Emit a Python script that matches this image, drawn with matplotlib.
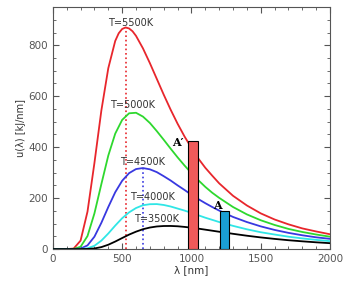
import numpy as np
import matplotlib
matplotlib.use("Agg")
import matplotlib.pyplot as plt
from matplotlib.ticker import MultipleLocator

# wavelength grid [nm]
wl = [0, 100, 150, 200, 250, 300, 350, 400, 450, 500, 550, 600, 650, 700, 750,
      800, 850, 900, 950, 1000, 1050, 1100, 1150, 1200, 1300, 1400, 1500,
      1600, 1700, 1800, 1900, 2000]
# the 5500K curve is sharper, so it gets a few extra points round its peak
wl_5500 = [0, 100, 150, 200, 250, 300, 350, 400, 450, 475, 500, 525, 550, 575, 600,
           650, 700, 750, 800, 850, 900, 950, 1000, 1050, 1100, 1150, 1200, 1300,
           1400, 1500, 1600, 1700, 1800, 1900, 2000]

# spectral energy density [kJ/nm]
u_5500 = [0, 0, 1.8, 33, 147, 338, 544, 710, 817, 847, 864, 870, 866, 855, 837,
          788, 730, 668, 606, 547, 492, 442, 397, 355, 319, 288, 258, 209,
          171, 140, 116, 97, 81, 69, 58]
u_5000 = [0, 0, 0.3, 8.8, 51, 140, 255, 367, 453, 507, 533, 535, 520, 495, 463,
          429, 394, 360, 328, 298, 270, 244, 221, 201, 165, 136, 113,
          94.5, 79, 67, 57, 48.5]
u_4500 = [0, 0, 0, 1.8, 14.3, 48.5, 103, 165, 223, 268, 298, 314, 318, 313, 302,
          286, 269, 250, 232, 213, 196, 180, 165, 151, 126, 106, 89,
          75, 63.5, 54, 46, 40]
u_4000 = [0, 0, 0, 0.2, 2.9, 12.9, 33, 61, 92, 121, 144, 161, 172, 176, 176.5,
          173, 167, 159, 151, 142, 132.5, 123, 114.6, 106, 91, 77.5, 66,
          57, 48.5, 41.7, 36, 31]
u_3500 = [0, 0, 0, 0, 0.4, 2.3, 7.6, 16.9, 29.4, 43.2, 56.7, 68.2, 77.8, 84.4, 88.6,
          90.4, 90.6, 89.4, 86.9, 83.8, 80.1, 76.1, 72, 67.9, 59.8, 52.3, 45.6,
          39.8, 34.6, 30.3, 26.4, 23]

temps = ["T=5500K", "T=5000K", "T=4500K", "T=4000K", "T=3500K"]
label_x = [558, 573, 645, 717, 746]
label_y = [886, 565, 341, 204, 118]

# Wien peaks (dotted markers)
peak_x = [527, 650]
peak_y = [870, 318]

# the two intervals A' and A
bar_left = [976, 1208]
bar_right = [1049, 1271]
bar_height = [425, 150]
bar_names = ["A\u2032", "A"]

fig = plt.figure(figsize=(3.5, 2.83), dpi=100)
ax = fig.add_axes([0.151, 0.12, 0.792, 0.855])

ax.plot(wl_5500, u_5500, color="#e8262c", lw=1.3, zorder=3, solid_joinstyle="round")
colors = ["#2ed82e", "#3838e0", "#30e6e6", "black"]
for u, c in zip([u_5000, u_4500, u_4000, u_3500], colors):
    ax.plot(wl, u, color=c, lw=1.3, zorder=3, solid_joinstyle="round")

ax.plot([peak_x[0], peak_x[0]], [0, peak_y[0]], ls=":", color="#e8262c", lw=1.2, zorder=2)
ax.plot([peak_x[1], peak_x[1]], [0, peak_y[1]], ls=":", color="#3838e0", lw=1.2, zorder=2)

bar_colors = ["#f05a5a", "#1a9fd6"]
for l, r, h, c in zip(bar_left, bar_right, bar_height, bar_colors):
    ax.bar(l, h, width=r - l, align="edge", color=c, edgecolor="black", lw=0.8, zorder=4)

for t, x, y in zip(temps, label_x, label_y):
    ax.text(x, y, t, ha="center", va="center", fontsize=7, color="#333333", zorder=5)

ax.text(900, 420, bar_names[0], fontsize=8, fontweight="bold", family="DejaVu Serif",
        ha="center", va="center", zorder=5)
ax.text(1190, 172, bar_names[1], fontsize=8, fontweight="bold", family="DejaVu Serif",
        ha="center", va="center", zorder=5)

ax.set_xlim(0, 2000)
ax.set_ylim(0, 950)
ax.xaxis.set_major_locator(MultipleLocator(500))
ax.xaxis.set_minor_locator(MultipleLocator(100))
ax.yaxis.set_major_locator(MultipleLocator(200))
ax.yaxis.set_minor_locator(MultipleLocator(50))
ax.tick_params(which="both", direction="in", top=True, right=True, colors="#555555",
               labelsize=7.5, labelcolor="#555555")
ax.tick_params(which="major", length=4)
ax.tick_params(which="minor", length=2)
for s in ax.spines.values():
    s.set_color("#555555")

ax.set_xlabel("\u03bb [nm]", fontsize=7.5, color="#333333", labelpad=1)
ax.set_ylabel("u(\u03bb) [kJ/nm]", fontsize=7, color="#333333", labelpad=2)

fig.savefig("out.png", dpi=100)
